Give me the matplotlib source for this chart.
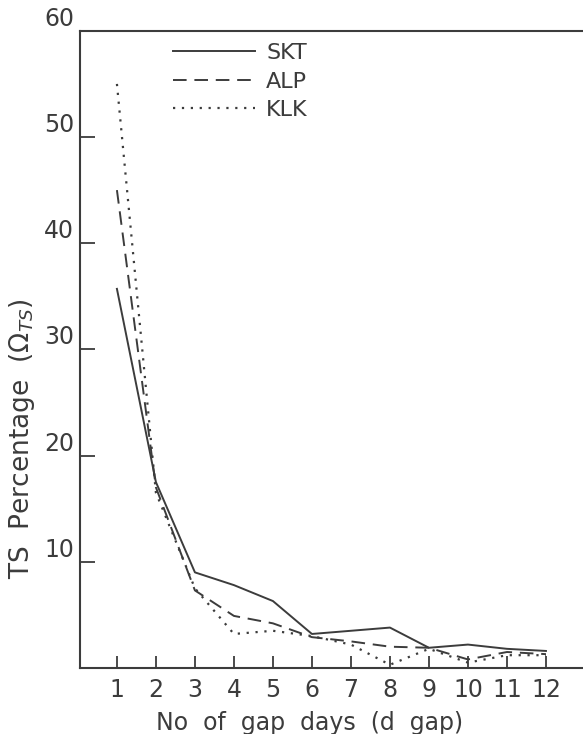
import matplotlib.pyplot as plt

# Data
gap_days = [1, 2, 3, 4, 5, 6, 7, 8, 9, 10, 11, 12]
skt = [35.7, 17.5, 9.0, 7.8, 6.3, 3.2, 3.5, 3.8, 1.9, 2.2, 1.8, 1.6]
alp = [45.0, 17.0, 7.3, 4.9, 4.2, 2.9, 2.5, 2.0, 1.9, 0.8, 1.5, 1.3]
klk = [55.0, 16.5, 7.5, 3.2, 3.5, 3.0, 2.2, 0.3, 1.8, 0.5, 1.2, 1.2]
y_ticks = [10, 20, 30, 40, 50, 60]

plt.rcParams['font.family'] = ['DejaVu Sans']
ink = "#3c3c3c"

# Figure creation
fig = plt.figure(figsize=(5.83, 7.34), dpi=100)
ax = fig.add_axes([0.137, 0.09, 0.863, 0.868])

ax.plot(gap_days, skt, "-", color=ink, lw=1.4, label="SKT")
ax.plot(gap_days, alp, color=ink, lw=1.4, dashes=(7, 4), label="ALP")
ax.plot(gap_days, klk, color=ink, lw=1.6, dashes=(1, 3.0), label="KLK")

ax.set_xlim(0.05, 12.95)
ax.set_ylim(0, 60)

# Axis styling
ax.spines["right"].set_visible(False)
for s in ["left", "top", "bottom"]:
    ax.spines[s].set_color(ink)
    ax.spines[s].set_linewidth(1.5)

ax.set_xticks(gap_days)
ax.set_xticklabels([str(d) for d in gap_days], fontsize=17, color=ink)
ax.set_yticks(y_ticks)
ax.set_yticklabels([str(v) for v in y_ticks], fontsize=17, color=ink, va="bottom")
ax.tick_params(axis="x", direction="in", length=9, width=1.3, color=ink, pad=7)
ax.tick_params(axis="y", direction="in", length=11, width=1.3, color=ink, pad=4)
ax.yaxis.get_major_ticks()[-1].tick1line.set_visible(False)

ax.set_xlabel("No  of  gap  days  (d  gap)", fontsize=17, color=ink)
ax.xaxis.set_label_coords(0.457, -0.068)
ax.set_ylabel(r"TS  Percentage  ($\Omega_{TS}$)", fontsize=19, color=ink)
ax.yaxis.set_label_coords(-0.085, 0.36)

leg = ax.legend(loc="upper left", bbox_to_anchor=(0.145, 1.012), frameon=False,
                handlelength=3.7, handletextpad=0.5, labelspacing=0.38,
                fontsize=16)
for t in leg.get_texts():
    t.set_color(ink)

plt.savefig("out.png", dpi=100)
